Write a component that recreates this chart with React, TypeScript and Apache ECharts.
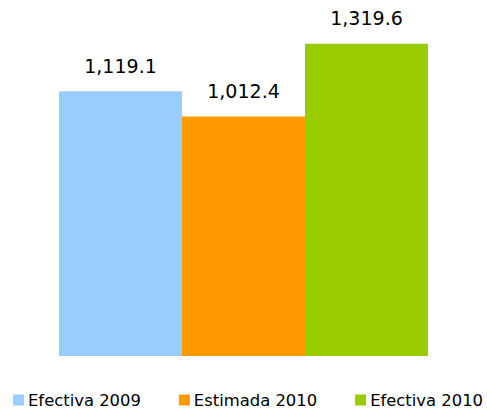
import React, { useEffect, useRef } from "react";
import * as echarts from "echarts";

const seriesNames = ["Efectiva 2009", "Estimada 2010", "Efectiva 2010"];
const seriesValues = [1119.1, 1012.4, 1319.6];
const seriesColors = ["#99CCFF", "#FF9900", "#99CC00"];
const categories = [""];

const fmt = (v: number) =>
  v.toLocaleString("en-US", { minimumFractionDigits: 1, maximumFractionDigits: 1 });

export default function App() {
  const ref = useRef<HTMLDivElement>(null);
  useEffect(() => {
    if (!ref.current) return;
    const chart = echarts.init(ref.current, undefined, { renderer: "svg" });
    chart.setOption({
      animation: false,
      textStyle: { fontFamily: "DejaVu Sans" },
      grid: { left: 58, right: 58, top: 1, bottom: 57 },
      legend: {
        left: 13,
        top: 392,
        width: 474,
        padding: 0,
        itemWidth: 11,
        itemHeight: 11,
        itemGap: 38,
        icon: "rect",
        textStyle: { fontSize: 16.4, color: "#000", fontFamily: "DejaVu Sans", padding: [0, 0, 0, -1] },
        data: seriesNames,
      },
      xAxis: {
        type: "category",
        data: categories,
        axisLine: { show: false },
        axisTick: { show: false },
        axisLabel: { show: false },
      },
      yAxis: {
        type: "value",
        min: 0,
        max: 1500,
        show: false,
        splitLine: { show: false },
      },
      series: seriesNames.map((name, i) => ({
        name,
        type: "bar",
        data: [seriesValues[i]],
        barWidth: 123,
        barGap: "0%",
        itemStyle: { color: seriesColors[i] },
        label: {
          show: true,
          position: "top",
          distance: 16,
          fontSize: 19,
          color: "#000",
          fontFamily: "DejaVu Sans",
          formatter: (p: any) => fmt(p.value),
        },
      })),
    });
    return () => chart.dispose();
  }, []);
  return (
    <div
      ref={ref}
      style={{ position: "fixed", left: 0, top: 0, width: 487, height: 413, background: "#fff" }}
    />
  );
}
